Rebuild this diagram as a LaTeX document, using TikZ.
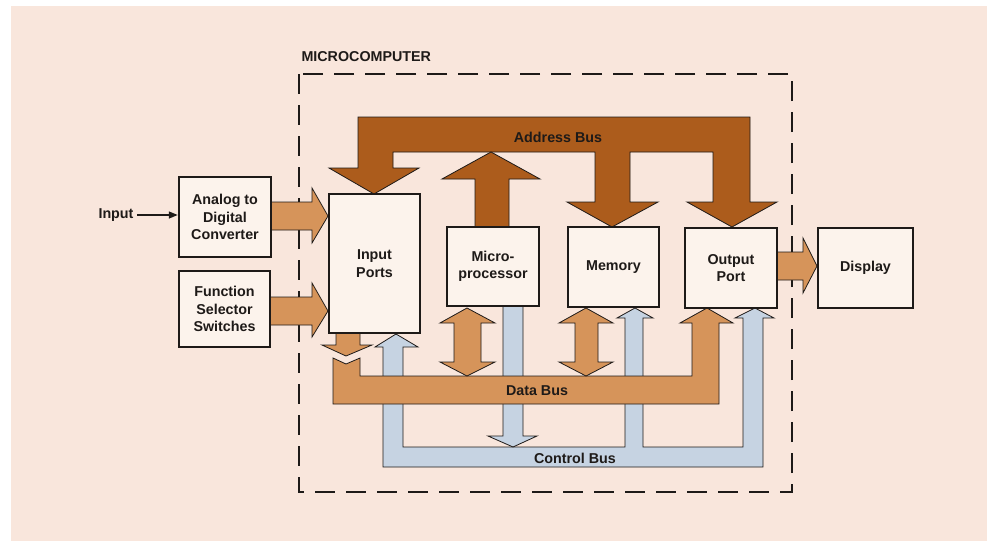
\documentclass[tikz,border=0pt]{standalone}
\usepackage{fontspec}
\setmainfont{Liberation Sans}
\usetikzlibrary{arrows.meta}
\definecolor{bgpink}{HTML}{F9E6DC}
\definecolor{boxfill}{HTML}{FCF3EC}
\definecolor{addr}{HTML}{AC5C1C}
\definecolor{tan}{HTML}{D6945A}
\definecolor{ctrl}{HTML}{C6D3E2}
\definecolor{ink}{HTML}{1E1A18}
\begin{document}
\begin{tikzpicture}[x=1pt,y=-1pt,
  txt/.style={font=\bfseries\fontsize{14.3}{17.5}\selectfont, text=ink, align=center},
  blk/.style={txt, draw=ink, line width=2.5pt, fill=boxfill, inner sep=0pt},
  busA/.style={fill=addr, draw=ink, line width=0.8pt, line join=miter},
  busD/.style={fill=tan, draw=ink, line width=0.8pt, line join=miter},
  busC/.style={fill=ctrl, draw=ink, line width=0.8pt, line join=miter}]
\useasboundingbox (0,0) rectangle (996,541);
\fill[white] (0,0) rectangle (996,541);
\fill[bgpink] (11,6) rectangle (987,541);
% microcomputer frame
\draw[ink, line width=2.8pt, dash pattern=on 20pt off 11pt] (299,74) rectangle (792,492);
\node[txt, anchor=west] (mclabel) at (298,57) {MICROCOMPUTER};
% address bus
\draw[busA] (358,117) -- (750,117) -- (750,202) -- (777,202) -- (732,227) -- (687,202)
  -- (713,202) -- (713,152) -- (630,152) -- (630,202) -- (658,202) -- (612,227)
  -- (567,202) -- (595,202) -- (595,152) -- (393,152) -- (393,168) -- (419,168)
  -- (374,194) -- (329,168) -- (358,168) -- cycle;
\draw[busA] (475,227) -- (475,179) -- (442,179) -- (491,152) -- (540,179) -- (509,179) -- (509,227) -- cycle;
\node[txt] (addrlabel) at (558,137) {Address Bus};
% control bus
\draw[busC] (383,467) -- (383,347) -- (375,347) -- (396,334) -- (418,347) -- (403,347)
  -- (403,447) -- (625,447) -- (625,318) -- (617,318) -- (635,308) -- (653,318)
  -- (643,318) -- (643,447) -- (743,447) -- (743,318) -- (735,318) -- (755,308)
  -- (774,318) -- (763,318) -- (763,467) -- cycle;
\draw[busC] (503,305) -- (503,436) -- (488,436) -- (513,447) -- (537,436) -- (523,436) -- (523,305) -- cycle;
\node[txt] (ctrllabel) at (575,458) {Control Bus};
% data bus
\draw[busD] (333,358) -- (346,364) -- (360,358) -- (360,376) -- (692,376) -- (692,323)
  -- (680,323) -- (707,308) -- (733,323) -- (719,323) -- (719,404) -- (333,404) -- cycle;
\node[txt] (datalabel) at (537,391) {Data Bus};
\draw[busD] (336,333) -- (336,345) -- (322,345) -- (346,356) -- (372,345) -- (360,345) -- (360,333) -- cycle;
% double arrows
\draw[busD] (467,308) -- (495,323) -- (481,323) -- (481,362) -- (495,362) -- (467,376)
  -- (440,362) -- (454,362) -- (454,323) -- (440,323) -- cycle;
\draw[busD] (586,308) -- (613,323) -- (598,323) -- (598,362) -- (613,362) -- (586,376)
  -- (559,362) -- (575,362) -- (575,323) -- (559,323) -- cycle;
% side arrows
\draw[busD] (271,202) -- (312,202) -- (312,188) -- (328,216) -- (312,243) -- (312,230) -- (271,230) -- cycle;
\draw[busD] (270,297) -- (312,297) -- (312,283) -- (328,311) -- (312,337) -- (312,325) -- (270,325) -- cycle;
\draw[busD] (777,252) -- (803,252) -- (803,238) -- (817,266) -- (803,293) -- (803,280) -- (777,280) -- cycle;
% blocks
\node[blk, minimum width=92pt, minimum height=80pt] (adc) at (225,217) {Analog to\\Digital\\Converter};
\node[blk, minimum width=91pt, minimum height=76pt] (fss) at (224.5,309) {Function\\Selector\\Switches};
\node[blk, minimum width=91pt, minimum height=139pt] (inp) at (374.5,263.5) {Input\\Ports};
\node[blk, minimum width=92pt, minimum height=79pt] (mpu) at (493,266.5) {Micro-\\processor};
\node[blk, minimum width=91pt, minimum height=80pt] (mem) at (613.5,267) {Memory};
\node[blk, minimum width=92pt, minimum height=80pt] (outp) at (731,268) {Output\\Port};
\node[blk, minimum width=95pt, minimum height=80pt] (disp) at (865.5,268) {Display};
% input
\node[txt, anchor=east] (inlabel) at (137,215) {Input};
\draw[ink, line width=1.4pt, -{Triangle[length=9pt,width=7pt]}] (inlabel.east) -- (adc.west |- inlabel.east);
\end{tikzpicture}
\end{document}
